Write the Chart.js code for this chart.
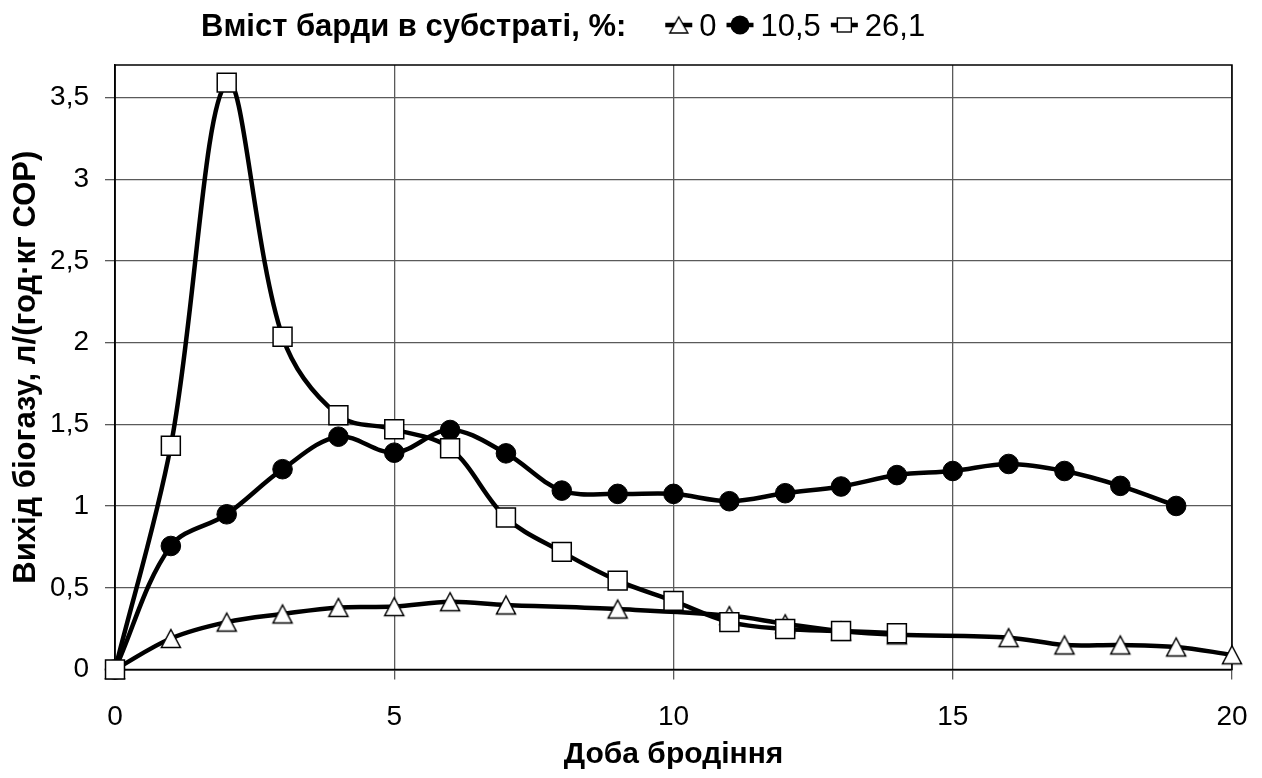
<!DOCTYPE html>
<html>
<head>
<meta charset="utf-8">
<script src="https://cdn.jsdelivr.net/npm/chart.js@4"></script>
<style>
  body { margin: 0; background: #fff; }
  #wrap { width: 1262px; height: 778px; position: relative; }
</style>
</head>
<body>
<div id="wrap"><canvas id="biogasChart"></canvas></div>
<script>
// Дані
const legendTitle = 'Вміст барди в субстраті, %:';
const seriesNames = ['0', '10,5', '26,1'];

const days0 = [0, 1, 2, 3, 4, 5, 6, 7, 9, 11, 12, 13, 14, 16, 17, 18, 19, 20];
const yield0 = [0, 0.19, 0.29, 0.34, 0.38, 0.385, 0.415, 0.395, 0.37, 0.33, 0.28, 0.235, 0.212, 0.195, 0.15, 0.15, 0.138, 0.09];

const days105 = [0, 1, 2, 3, 4, 5, 6, 7, 8, 9, 10, 11, 12, 13, 14, 15, 16, 17, 18, 19];
const yield105 = [0, 0.756, 0.95, 1.226, 1.425, 1.327, 1.466, 1.323, 1.095, 1.075, 1.075, 1.03, 1.079, 1.12, 1.19, 1.215, 1.258, 1.215, 1.124, 1.001];

const days261 = [0, 1, 2, 3, 4, 5, 6, 7, 8, 9, 10, 11, 12, 13, 14];
const yield261 = [0, 1.37, 3.592, 2.037, 1.556, 1.47, 1.354, 0.93, 0.72, 0.544, 0.42, 0.29, 0.248, 0.236, 0.222];

const xTicks = [0, 5, 10, 15, 20];
const yTicks = [0, 0.5, 1, 1.5, 2, 2.5, 3, 3.5];

const FONT = '"Liberation Sans", Arial, sans-serif';

function toPoints(xs, ys) {
    return xs.map((x, i) => ({ x: x, y: ys[i] }));
}

// трикутник, центрований по своїй рамці (як у Excel)
function makeTriangle(w, h, lw) {
    const c = document.createElement('canvas');
    c.width = w + lw * 2 + 2;
    c.height = h + lw * 2 + 2;
    const g = c.getContext('2d');
    const cx = c.width / 2, cy = c.height / 2;
    g.beginPath();
    g.moveTo(cx, cy - h / 2);
    g.lineTo(cx + w / 2, cy + h / 2);
    g.lineTo(cx - w / 2, cy + h / 2);
    g.closePath();
    g.fillStyle = '#fff';
    g.fill();
    g.lineWidth = lw;
    g.strokeStyle = '#000';
    g.stroke();
    return c;
}

const triBig = makeTriangle(19, 18, 1.5);
const triSmall = makeTriangle(18, 16, 1.4);

// легенда в один рядок над графіком
const inlineLegend = {
    id: 'inlineLegend',
    afterDraw(chart) {
        const ctx = chart.ctx;
        const y = 27;
        ctx.save();
        ctx.textBaseline = 'middle';
        ctx.textAlign = 'left';
        ctx.fillStyle = '#000';
        ctx.font = 'bold 31px ' + FONT;
        ctx.fillText(legendTitle, 201, y);
        let x = 201 + ctx.measureText(legendTitle).width + 39;
        ctx.font = '31px ' + FONT;
        const styles = ['tri', 'circle', 'rect'];
        seriesNames.forEach((name, i) => {
            const ly = y - 2;
            ctx.lineWidth = 4.5;
            ctx.strokeStyle = '#000';
            ctx.beginPath();
            ctx.moveTo(x, ly);
            ctx.lineTo(x + 27, ly);
            ctx.stroke();
            const mx = x + 13.5;
            if (styles[i] === 'tri') {
                ctx.drawImage(triSmall, mx - triSmall.width / 2, ly - triSmall.height / 2);
            } else if (styles[i] === 'circle') {
                ctx.fillStyle = '#000';
                ctx.beginPath();
                ctx.arc(mx, ly, 9.5, 0, Math.PI * 2);
                ctx.fill();
            } else {
                ctx.fillStyle = '#fff';
                ctx.lineWidth = 1.4;
                ctx.fillRect(mx - 7, ly - 7, 14, 14);
                ctx.strokeRect(mx - 7, ly - 7, 14, 14);
            }
            ctx.fillStyle = '#000';
            x += 27 + 7;
            ctx.fillText(name, x, y);
            x += ctx.measureText(name).width + 10;
        });
        ctx.restore();
    }
};

// рамка області побудови
const plotFrame = {
    id: 'plotFrame',
    beforeDatasetsDraw(chart) {
        const a = chart.chartArea;
        const ctx = chart.ctx;
        ctx.save();
        ctx.strokeStyle = '#000';
        ctx.lineWidth = 1.5;
        ctx.strokeRect(a.left, a.top, a.right - a.left, a.bottom - a.top);
        ctx.restore();
    }
};

const ctxBio = document.getElementById('biogasChart').getContext('2d');

window.biogasChart = new Chart(ctxBio, {
    type: 'line',
    data: {
        datasets: [
            {
                label: seriesNames[0],
                data: toPoints(days0, yield0),
                borderColor: '#000',
                borderWidth: 4.5,
                pointStyle: triBig,
                pointRadius: 10,
                tension: 0.35,
                clip: false,
                order: 3
            },
            {
                label: seriesNames[1],
                data: toPoints(days105, yield105),
                borderColor: '#000',
                borderWidth: 4.5,
                backgroundColor: '#000',
                pointStyle: 'circle',
                pointRadius: 9.8,
                pointBorderWidth: 1,
                pointBackgroundColor: '#000',
                pointBorderColor: '#000',
                tension: 0.35,
                clip: false,
                order: 2
            },
            {
                label: seriesNames[2],
                data: toPoints(days261, yield261),
                borderColor: '#000',
                borderWidth: 4.5,
                pointStyle: 'rect',
                pointRadius: 13.4,
                pointBorderWidth: 1.5,
                pointBackgroundColor: '#fff',
                pointBorderColor: '#000',
                tension: 0.35,
                clip: false,
                order: 1
            }
        ]
    },
    options: {
        responsive: true,
        maintainAspectRatio: false,
        animation: false,
        layout: { padding: { top: 65, right: 30, bottom: 0, left: 0 } },
        plugins: {
            legend: { display: false },
            tooltip: { enabled: false }
        },
        scales: {
            x: {
                type: 'linear',
                min: 0,
                max: 20,
                afterFit: (s) => {
                    s.height = 108.5;
                    s.paddingLeft = 0;
                    s.paddingRight = 0;
                },
                afterBuildTicks: (s) => { s.ticks = xTicks.map(v => ({ value: v })); },
                ticks: {
                    font: { family: FONT, size: 28 },
                    color: '#000',
                    padding: 21,
                    maxRotation: 0
                },
                grid: { color: '#5a5a5a', lineWidth: 1.3, tickLength: 10 },
                border: { color: '#000', width: 1.5 },
                title: {
                    display: true,
                    text: 'Доба бродіння',
                    color: '#000',
                    font: { family: FONT, size: 30, weight: 'bold' },
                    padding: { top: 4, bottom: 5 }
                }
            },
            y: {
                min: 0,
                max: 3.7,
                afterFit: (s) => {
                    s.width = 115;
                    s.paddingTop = 0;
                    s.paddingBottom = 0;
                },
                afterBuildTicks: (s) => { s.ticks = yTicks.map(v => ({ value: v })); },
                ticks: {
                    font: { family: FONT, size: 28 },
                    color: '#000',
                    padding: 16,
                    callback: (v) => String(v).replace('.', ',')
                },
                grid: { color: '#5a5a5a', lineWidth: 1.3, tickLength: 10 },
                border: { color: '#000', width: 1.5 },
                title: {
                    display: true,
                    text: 'Вихід біогазу, л/(год·кг СОР)',
                    color: '#000',
                    font: { family: FONT, size: 31, weight: 'bold' },
                    padding: { top: 8, bottom: 4 }
                }
            }
        }
    },
    plugins: [plotFrame, inlineLegend]
});
</script>
</body>
</html>
